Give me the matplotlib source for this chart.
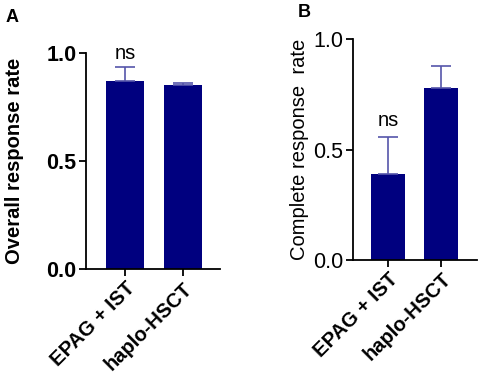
import matplotlib.pyplot as plt

groups = ["EPAG + IST", "haplo-HSCT"]

overall_rate = [0.87, 0.852]
overall_err = [0.065, 0.008]

complete_rate = [0.39, 0.778]
complete_err = [0.167, 0.10]

bar_color = "#00007f"
err_color = "#5555aa"

plt.rcParams['font.family'] = ['Liberation Sans', 'DejaVu Sans']

fig = plt.figure(figsize=(4.81, 3.8), dpi=100)
ax1 = fig.add_axes([0.179, 0.292, 0.278, 0.568])
ax2 = fig.add_axes([0.734, 0.316, 0.258, 0.581])


def draw_panel(ax, vals, errs, ylabel, bold_y, xlim, pad):
    x = range(len(groups))
    ax.bar(x, vals, width=0.65, color=bar_color, zorder=2)
    ax.errorbar(x, vals, yerr=[[0] * len(errs), errs], fmt="none",
                ecolor=err_color, elinewidth=1.2, capsize=7, capthick=1.2, zorder=3)
    ax.set_ylim(0, 1.0)
    ax.set_xlim(*xlim)
    ax.set_yticks([0.0, 0.5, 1.0])
    ax.set_yticklabels(["0.0", "0.5", "1.0"], fontsize=15.5,
                       fontweight="bold" if bold_y else "normal")
    ax.set_xticks(list(x))
    ax.set_xticklabels(groups, rotation=45, ha="right", rotation_mode="anchor",
                       fontsize=14.5, fontweight="bold")
    ax.set_ylabel(ylabel, fontsize=14.5, fontweight="bold" if bold_y else "normal",
                  labelpad=pad)
    for s in ["top", "right"]:
        ax.spines[s].set_visible(False)
    for s in ["left", "bottom"]:
        ax.spines[s].set_linewidth(1.3)
    ax.tick_params(axis="both", width=1.3, length=5, pad=2)


draw_panel(ax1, overall_rate, overall_err, "Overall response rate", True, (-0.67, 1.64), 16)
draw_panel(ax2, complete_rate, complete_err, "Complete response  rate", False, (-0.66, 1.68), 3)

ax1.text(0, overall_rate[0] + overall_err[0] + 0.02, "ns", ha="center", va="bottom", fontsize=14.5)
ax2.text(0, complete_rate[0] + complete_err[0] + 0.03, "ns", ha="center", va="bottom", fontsize=14.5)

fig.text(0.012, 0.975, "A", fontsize=13, fontweight="bold", va="top")
fig.text(0.618, 0.99, "B", fontsize=13, fontweight="bold", va="top")

fig.savefig("out.png", dpi=100)
